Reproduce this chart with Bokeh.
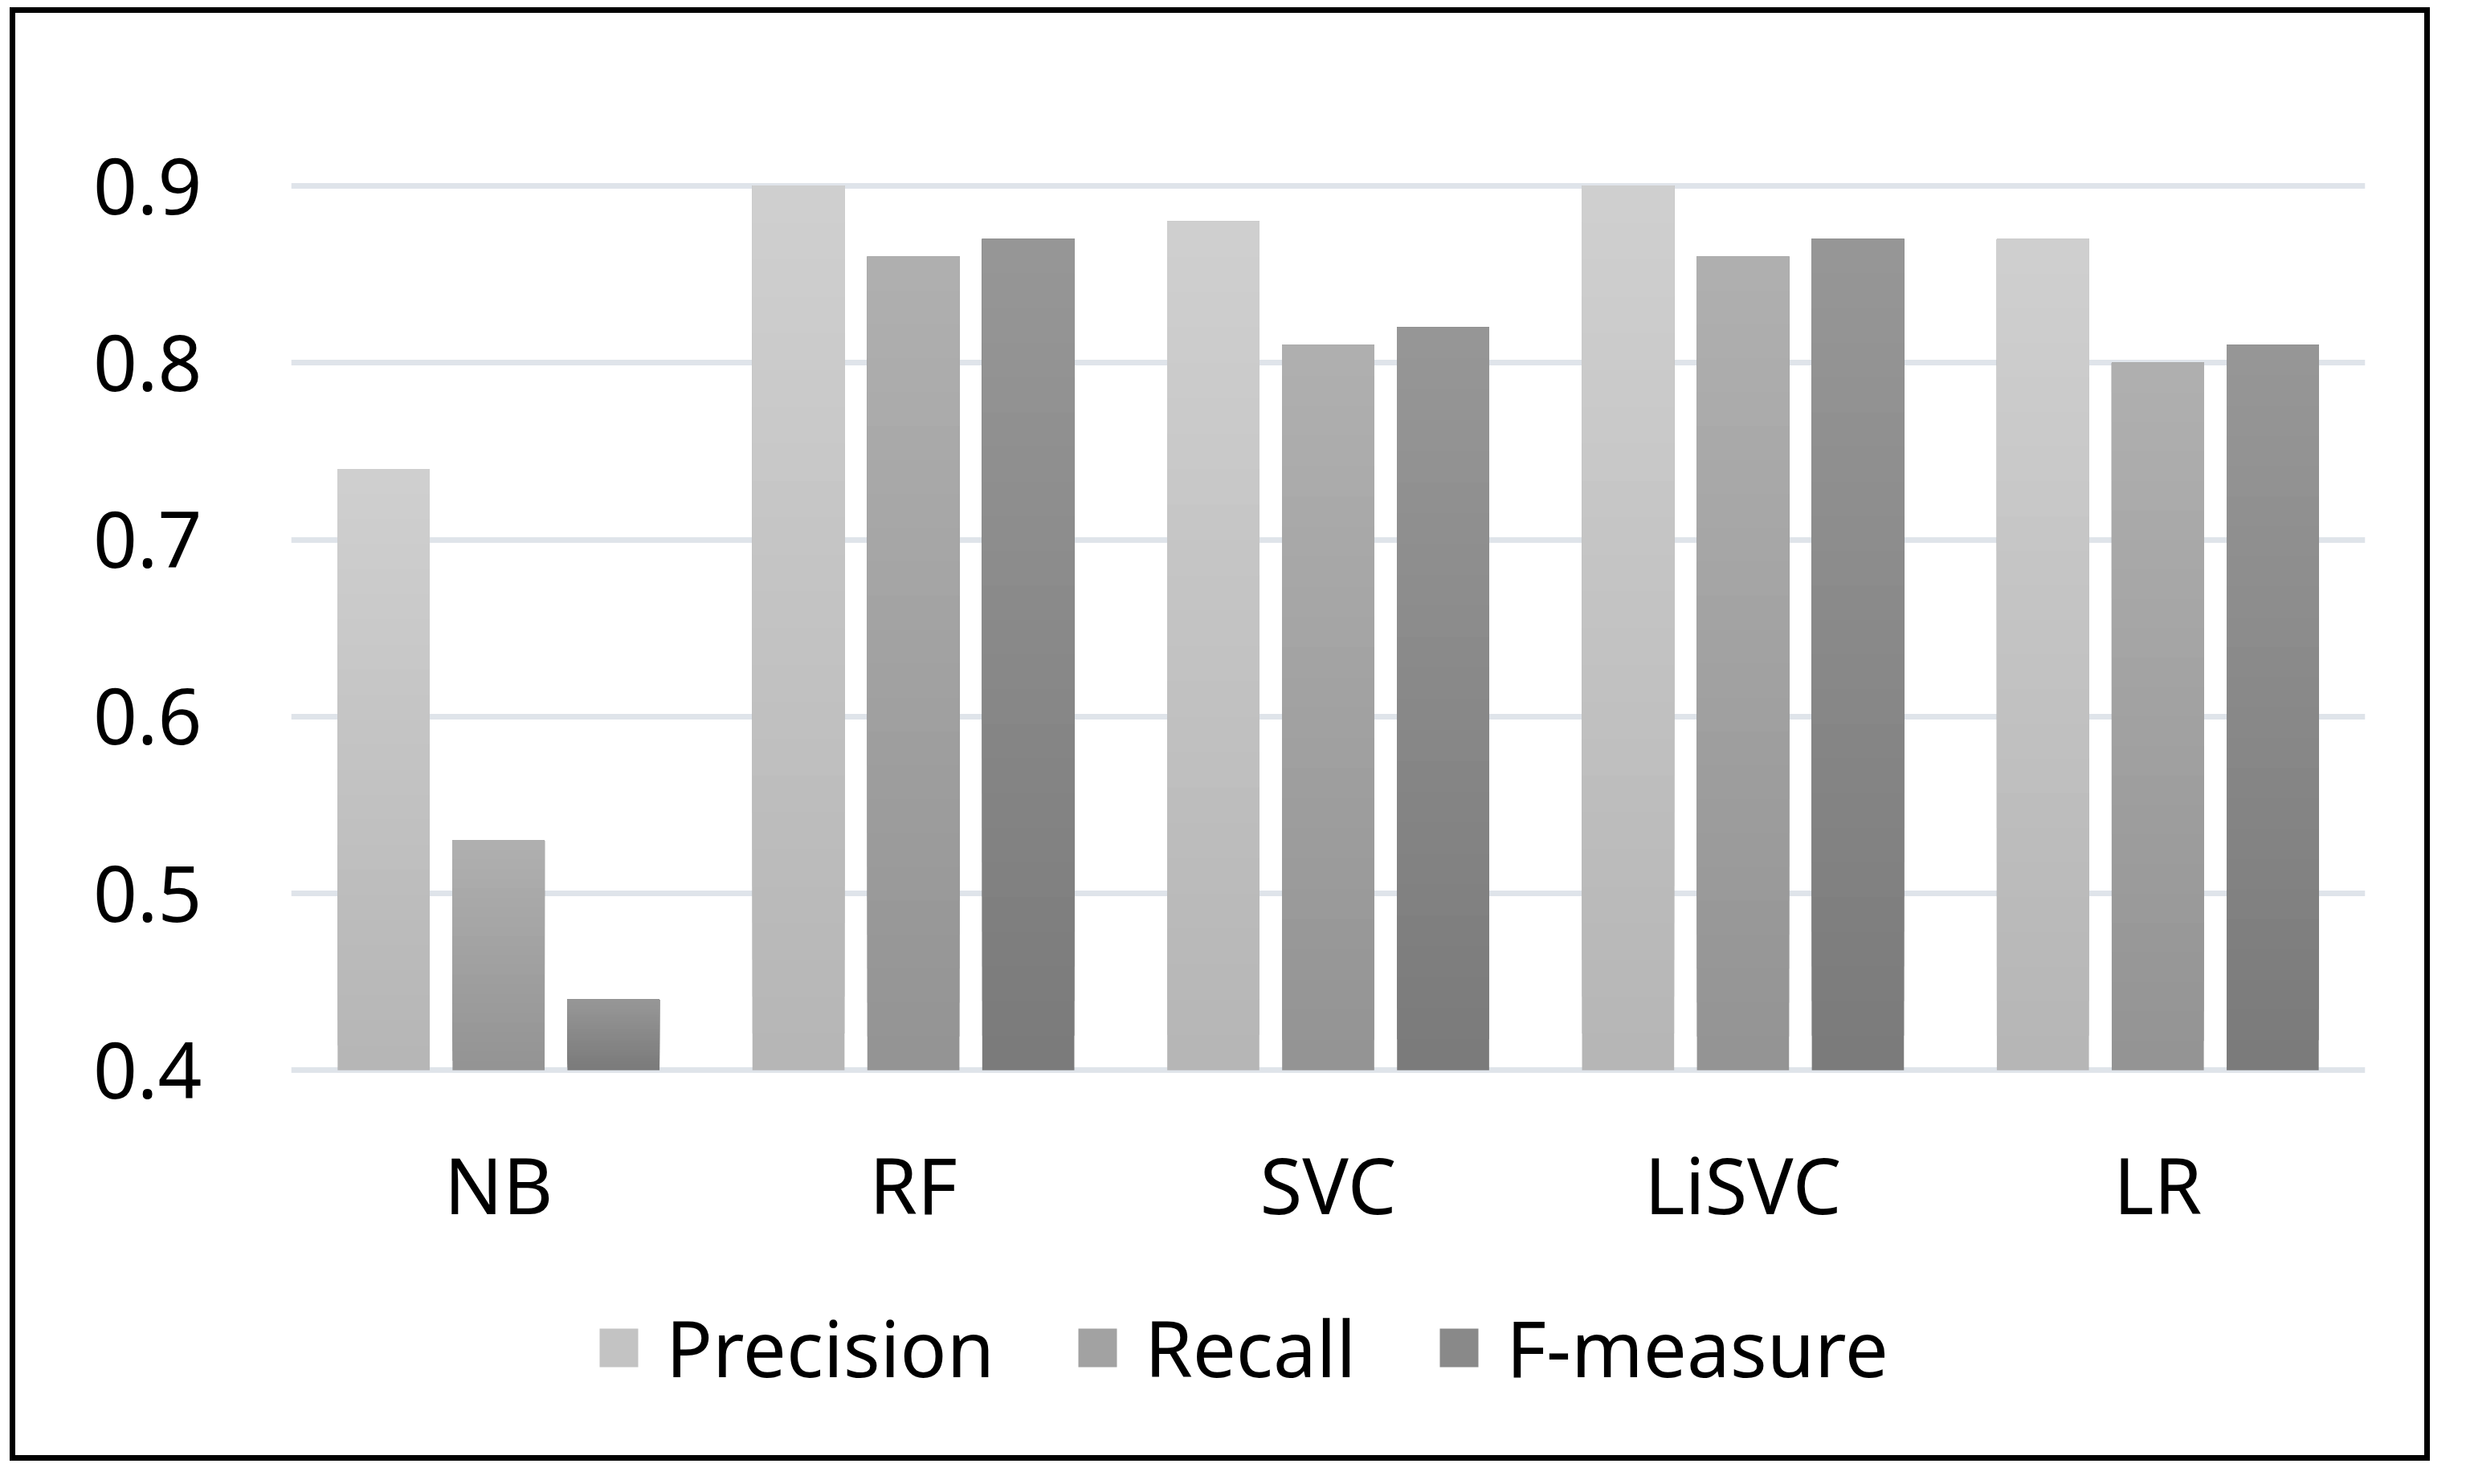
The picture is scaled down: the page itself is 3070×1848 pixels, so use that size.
from bokeh.plotting import figure
from bokeh.models import ColumnDataSource, FactorRange, Range1d, FixedTicker, Legend, LegendItem
from bokeh.transform import dodge
from bokeh.embed import file_html
from bokeh.resources import INLINE

# ---- data ----
categories = ["NB", "RF", "SVC", "LiSVC", "LR"]
precision = [0.74, 0.90, 0.88, 0.90, 0.87]
recall = [0.53, 0.86, 0.81, 0.86, 0.80]
f_measure = [0.44, 0.87, 0.82, 0.87, 0.81]
series_names = ["Precision", "Recall", "F-measure"]
y_ticks = [0.4, 0.5, 0.6, 0.7, 0.8, 0.9]

# ---- style ----
FONT = "Noto Sans"
FS = "96px"
top_cols = [208, 176, 151]
bot_cols = [181, 147, 122]
offsets = [-0.277, 0.0, 0.277]
N = 24
base = 0.4

p = figure(
    x_range=FactorRange(factors=categories, range_padding=0),
    y_range=Range1d(0.1895, 0.95),
    width=2999, height=1796,
    min_border_left=343, min_border_right=88,
    min_border_top=105, min_border_bottom=30,
    output_backend="svg", toolbar_location=None,
    background_fill_color="white", border_fill_color="white",
)
p.outline_line_color = None
p.styles = {"box-sizing": "content-box", "border": "7px solid black",
            "transform": "translate(12px, 9px)"}

series_vals = [precision, recall, f_measure]
items = []
for i, (name, vals) in enumerate(zip(series_names, series_vals)):
    cat, bot, top, col = [], [], [], []
    for k in range(N):
        t = (k + 0.5) / N
        g = int(round(bot_cols[i] + (top_cols[i] - bot_cols[i]) * t))
        c = "#%02x%02x%02x" % (g, g, g)
        for cname, v in zip(categories, vals):
            cat.append(cname)
            bot.append(base + (v - base) * k / N)
            top.append(v)
            col.append(c)
    src = ColumnDataSource(dict(cat=cat, bottom=bot, top=top, color=col))
    r = p.vbar(x=dodge("cat", offsets[i], range=p.x_range), width=0.222,
               bottom="bottom", top="top", fill_color="color", line_color=None,
               source=src)
    items.append(LegendItem(label=name, renderers=[r], index=(N // 2) * len(categories)))

legend = Legend(items=items, location=(378, 53), orientation="horizontal",
                glyph_width=60, glyph_height=60, label_standoff=29, spacing=98,
                padding=0, margin=0, border_line_color=None, background_fill_alpha=0,
                label_text_font=FONT, label_text_font_size=FS, label_text_color="black")
p.add_layout(legend)

# axes
for ax in (p.xaxis, p.yaxis):
    ax.axis_line_color = None
    ax.major_tick_line_color = None
    ax.minor_tick_line_color = None
    ax.major_label_text_font = FONT
    ax.major_label_text_font_size = FS
    ax.major_label_text_color = "black"
p.yaxis.ticker = FixedTicker(ticks=y_ticks)
p.yaxis.major_label_standoff = 105
p.xaxis.major_label_standoff = -394

p.xgrid.visible = False
p.ygrid.ticker = FixedTicker(ticks=y_ticks)
p.ygrid.grid_line_color = "#dfe4ea"
p.ygrid.grid_line_width = 7

open("out.html", "w").write(file_html(p, INLINE))
